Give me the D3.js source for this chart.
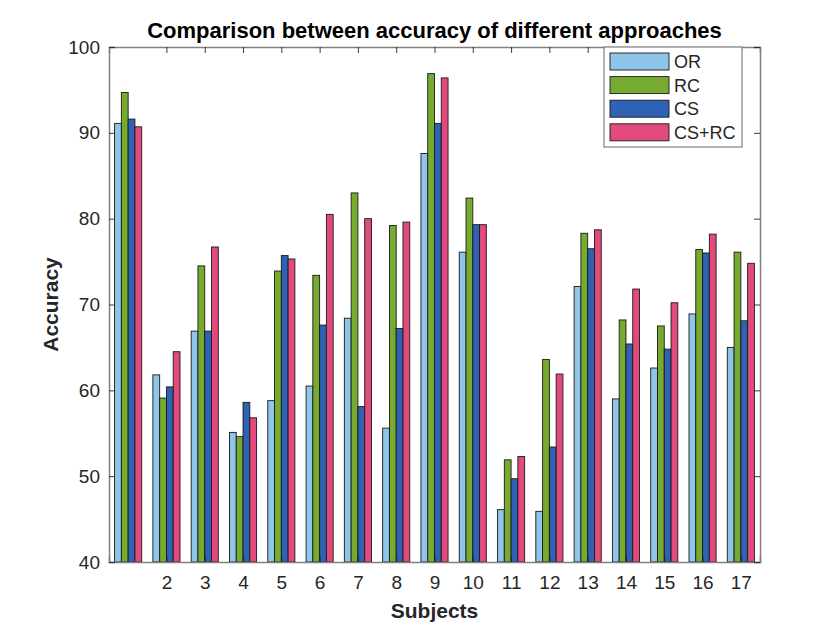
<!DOCTYPE html>
<html><head><meta charset="utf-8">
<script src="https://cdn.jsdelivr.net/npm/d3@7"></script>
<style>body{margin:0;background:#fff}svg{display:block}text{font-family:"Liberation Sans",Arial,sans-serif}</style>
</head><body><svg id="c" width="840" height="630"></svg>
<script>
const subjects = [1,2,3,4,5,6,7,8,9,10,11,12,13,14,15,16,17];
const xTickLabels = [2,3,4,5,6,7,8,9,10,11,12,13,14,15,16,17];
const seriesNames = ["OR","RC","CS","CS+RC"];
const OR   = [91.1,61.8,66.9,55.1,58.8,60.5,68.4,55.6,87.6,76.1,46.1,45.9,72.1,59.0,62.6,68.9,65.0];
const RC   = [94.7,59.1,74.5,54.6,73.9,73.4,83.0,79.2,96.9,82.4,51.9,63.6,78.3,68.2,67.5,76.4,76.1];
const CS   = [91.6,60.4,66.9,58.6,75.7,67.6,58.1,67.2,91.1,79.3,49.7,53.4,76.5,65.4,64.8,76.0,68.1];
const CSRC = [90.7,64.5,76.7,56.8,75.3,80.5,80.0,79.6,96.4,79.3,52.3,61.9,78.7,71.8,70.2,78.2,74.8];
const yTicks = [40,50,60,70,80,90,100];
const colors = ["#8ec5e8","#77ab30","#2f62b4","#e14a7b"];
const series = [OR,RC,CS,CSRC];

const svg = d3.select("#c");
const L=109,R=760,T=47,B=562;
const x = d3.scaleLinear().domain([0.5,17.5]).range([L,R]);
const y = d3.scaleLinear().domain([40,100]).range([B,T]);
const slot = 0.177;
const bw = x(slot)-x(0);

// bars
series.forEach((vals,si)=>{
  svg.append("g").selectAll("rect").data(vals).join("rect")
    .attr("x",(d,i)=>x(subjects[i]+(si-2)*slot))
    .attr("y",d=>y(d))
    .attr("width",bw)
    .attr("height",d=>B-y(d))
    .attr("fill",colors[si])
    .attr("stroke","#1a1a1a").attr("stroke-width",0.9);
});

const axCol="#808080", txtCol="#262626";
// axes
const gx = svg.append("g").attr("transform",`translate(0,${B})`)
  .call(d3.axisBottom(x).tickValues(xTickLabels).tickFormat(d3.format("d")).tickSize(-6).tickPadding(14));
const gxt = svg.append("g").attr("transform",`translate(0,${T})`)
  .call(d3.axisTop(x).tickValues(xTickLabels).tickFormat("").tickSize(-6));
const gy = svg.append("g").attr("transform",`translate(${L},0)`)
  .call(d3.axisLeft(y).tickValues(yTicks).tickFormat(d3.format("d")).tickSize(-6).tickPadding(9));
const gyr = svg.append("g").attr("transform",`translate(${R},0)`)
  .call(d3.axisRight(y).tickValues(yTicks).tickFormat("").tickSize(-6));
[gx,gxt,gy,gyr].forEach(g=>{
  g.select(".domain").attr("stroke",axCol).attr("stroke-width",1.5);
  g.selectAll(".tick line").attr("stroke",txtCol).attr("stroke-width",0.9);
  g.selectAll(".tick text").attr("fill",txtCol).style("font-size","19px").style("font-family","Liberation Sans, Arial, sans-serif");
});

// title & labels
svg.append("text").attr("x",(L+R)/2).attr("y",38).attr("text-anchor","middle")
  .style("font-size","22px").style("font-weight","bold").attr("fill","#000")
  .text("Comparison between accuracy of different approaches");
svg.append("text").attr("x",(L+R)/2).attr("y",618).attr("text-anchor","middle")
  .style("font-size","21px").style("font-weight","bold").attr("fill",txtCol).text("Subjects");
svg.append("text").attr("transform",`translate(58,${(T+B)/2}) rotate(-90)`).attr("text-anchor","middle")
  .style("font-size","21px").style("font-weight","bold").attr("fill",txtCol).text("Accuracy");

// legend
const lg = svg.append("g");
lg.append("rect").attr("x",604).attr("y",T).attr("width",138).attr("height",100)
  .attr("fill","#fff").attr("stroke",axCol).attr("stroke-width",1.2);
seriesNames.forEach((n,i)=>{
  const yy = 53 + i*23.6;
  lg.append("rect").attr("x",610).attr("y",yy).attr("width",59).attr("height",17)
    .attr("fill",colors[i]).attr("stroke","#1a1a1a").attr("stroke-width",0.9);
  lg.append("text").attr("x",674).attr("y",yy+15).style("font-size","18px").attr("fill",txtCol).text(n);
});
</script></body></html>
